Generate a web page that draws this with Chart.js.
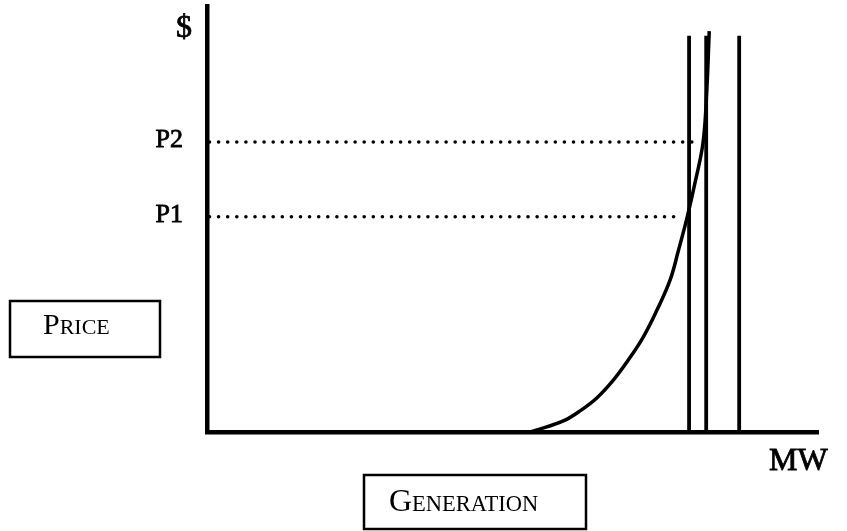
<!DOCTYPE html>
<html>
<head>
<meta charset="utf-8">
<script src="https://cdn.jsdelivr.net/npm/chart.js@4"></script>
<style>
  body { margin: 0; background: #fff; }
  canvas { display: block; }
</style>
</head>
<body>
<canvas id="chart" width="847" height="531"></canvas>
<script>
// supply curve (MW on x, $ on y, arbitrary units)
const curveMW    = [529, 556, 586, 610, 638, 664, 687, 714, 738, 758, 771, 786, 799, 812, 818, 822];
const curvePrice = [0, 1.2, 2.8, 4.9, 8.0, 12.0, 16.4, 22.3, 29.1, 35.7, 42.3, 50.5, 58.7, 68.1, 80.3, 94.1];

// vertical capacity lines
const capacityMW = [789, 817, 871];
const capacityTop = 93;

// price levels with dotted lines
const priceLabels = ['P1', 'P2'];
const priceLevels = [50.5, 68.1];
const priceLineEnd = [775, 795];

const serif = '"Liberation Serif", "Times New Roman", serif';

const datasets = [];

// Dotted price lines
priceLevels.forEach((p, i) => {
  datasets.push({
    data: [{ x: 4, y: p }, { x: priceLineEnd[i], y: p }],
    showLine: true,
    borderColor: '#000',
    borderWidth: 3.5,
    borderDash: [0.1, 9],
    borderCapStyle: 'round',
    pointRadius: 0
  });
});

// Capacity lines
capacityMW.forEach(mw => {
  datasets.push({
    data: [{ x: mw, y: 0 }, { x: mw, y: capacityTop }],
    showLine: true,
    borderColor: '#000',
    borderWidth: 3.8,
    pointRadius: 0
  });
});

// Curve
datasets.push({
  data: curveMW.map((x, i) => ({ x: x, y: curvePrice[i] })),
  showLine: true,
  borderColor: '#000',
  borderWidth: 3.5,
  tension: 0.4,
  pointRadius: 0
});

function smallCaps(ctx, first, rest, x, baseline, big, small) {
  ctx.textAlign = 'left';
  ctx.textBaseline = 'alphabetic';
  ctx.font = big + 'px ' + serif;
  ctx.fillText(first, x, baseline);
  const w = ctx.measureText(first).width;
  ctx.font = small + 'px ' + serif;
  ctx.fillText(rest, x + w, baseline);
}

function heavyText(ctx, text, x, y) {
  ctx.fillText(text, x, y);
  ctx.strokeText(text, x, y);
}

// Labels and boxes around the plot
const labelsPlugin = {
  id: 'labels',
  afterDraw(chart) {
    const ctx = chart.ctx;
    const area = chart.chartArea;
    const yScale = chart.scales.y;
    ctx.save();
    ctx.fillStyle = '#000';
    ctx.strokeStyle = '#000';
    ctx.lineWidth = 0.8;

    ctx.font = '32px ' + serif;
    ctx.textAlign = 'center';
    ctx.textBaseline = 'middle';
    heavyText(ctx, '$', area.left - 23, area.top + 23);

    ctx.textAlign = 'left';
    heavyText(ctx, 'MW', area.right - 49, area.bottom + 30);

    // P1 / P2 labels
    ctx.font = '26px ' + serif;
    ctx.textAlign = 'right';
    priceLevels.forEach((p, i) => {
      heavyText(ctx, priceLabels[i], area.left - 24, yScale.getPixelForValue(p) - 2);
    });

    // Price box
    ctx.lineWidth = 2.5;
    ctx.strokeRect(10, 301, 150, 56);
    smallCaps(ctx, 'P', 'RICE', 43, 334, 30, 22);

    // Generation box
    ctx.strokeRect(364, 475, 222, 54);
    smallCaps(ctx, 'G', 'ENERATION', 389, 511, 32, 22.5);

    ctx.restore();
  }
};

new Chart(document.getElementById('chart'), {
  type: 'scatter',
  data: { datasets: datasets },
  options: {
    responsive: false,
    animation: false,
    devicePixelRatio: 1,
    layout: { padding: { top: 6, right: 29, left: 0, bottom: 0 } },
    plugins: {
      legend: { display: false },
      tooltip: { enabled: false }
    },
    scales: {
      x: {
        type: 'linear',
        min: 0,
        max: 1000,
        grid: { display: false, drawTicks: false },
        ticks: { display: false },
        border: { display: true, color: '#000', width: 4.5 },
        afterFit: s => { s.height = 99; }
      },
      y: {
        type: 'linear',
        min: 0,
        max: 100,
        grid: { display: false, drawTicks: false },
        ticks: { display: false },
        border: { display: true, color: '#000', width: 4.5 },
        afterFit: s => { s.width = 207; }
      }
    }
  },
  plugins: [labelsPlugin]
});
</script>
</body>
</html>
